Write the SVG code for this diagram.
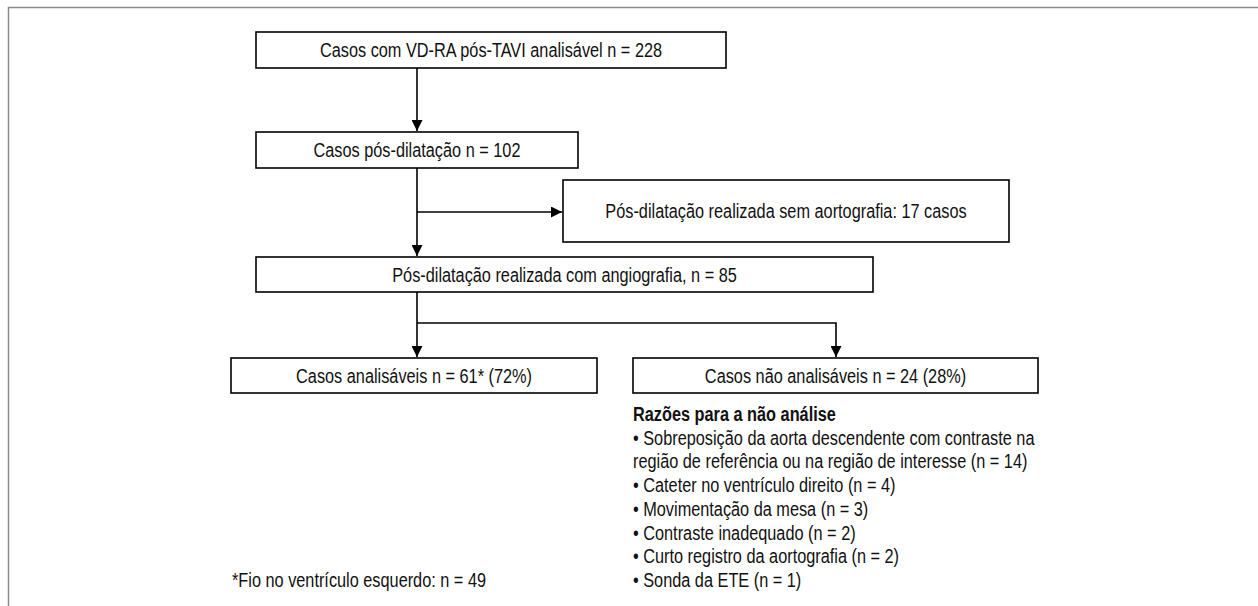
<svg xmlns="http://www.w3.org/2000/svg" width="1258" height="606" viewBox="0 0 1258 606">
<style>
.box{fill:#fff;stroke:#000;stroke-width:1.6}
.t{font-family:"Liberation Sans",Arial,sans-serif;font-size:20px;fill:#111}
.c{text-anchor:middle}
.b{font-weight:bold}
.ln{fill:none;stroke:#000;stroke-width:1.6}
.frame{fill:none;stroke:#8a8a8a;stroke-width:1.5}
</style>
<defs>
<marker id="ah" viewBox="0 0 10 10" refX="10" refY="5" markerWidth="11" markerHeight="11" markerUnits="userSpaceOnUse" orient="auto">
<path d="M0,0 L10,5 L0,10 z" fill="#000"/>
</marker>
</defs>
<rect width="1258" height="606" fill="#fff"/>
<path class="frame" d="M8.5,606 V7.5 H1258"/>
<g id="connectors">
<path class="ln" d="M417,68 V131" marker-end="url(#ah)"/>
<path class="ln" d="M417,168 V256" marker-end="url(#ah)"/>
<path class="ln" d="M417,212 H562" marker-end="url(#ah)"/>
<path class="ln" d="M417,292 V357" marker-end="url(#ah)"/>
<path class="ln" d="M417,323 H836 V357" marker-end="url(#ah)"/>
</g>
<g id="n1"><rect class="box" x="256" y="32" width="470" height="36"/><text class="t c" transform="translate(491,57) scale(0.815,1)">Casos com VD-RA pós-TAVI analisável n = 228</text></g>
<g id="n2"><rect class="box" x="256" y="132" width="322" height="36"/><text class="t c" transform="translate(417,157) scale(0.815,1)">Casos pós-dilatação n = 102</text></g>
<g id="n3"><rect class="box" x="563" y="180" width="446" height="62"/><text class="t c" transform="translate(786,218) scale(0.815,1)">Pós-dilatação realizada sem aortografia: 17 casos</text></g>
<g id="n4"><rect class="box" x="256" y="257" width="617" height="35"/><text class="t c" transform="translate(564.5,282) scale(0.815,1)">Pós-dilatação realizada com angiografia, n = 85</text></g>
<g id="n5"><rect class="box" x="231" y="358" width="366" height="35"/><text class="t c" transform="translate(414,383) scale(0.815,1)">Casos analisáveis n = 61* (72%)</text></g>
<g id="n6"><rect class="box" x="633" y="358" width="405" height="35"/><text class="t c" transform="translate(835.5,383) scale(0.815,1)">Casos não analisáveis n = 24 (28%)</text></g>
<g id="reasons">
<text class="t b" transform="translate(633,421) scale(0.815,1)">Razões para a não análise</text>
<text class="t" transform="translate(633,444.7) scale(0.815,1)">• Sobreposição da aorta descendente com contraste na</text>
<text class="t" transform="translate(633,468.4) scale(0.815,1)">região de referência ou na região de interesse (n = 14)</text>
<text class="t" transform="translate(633,492.1) scale(0.815,1)">• Cateter no ventrículo direito (n = 4)</text>
<text class="t" transform="translate(633,515.8) scale(0.815,1)">• Movimentação da mesa (n = 3)</text>
<text class="t" transform="translate(633,539.5) scale(0.815,1)">• Contraste inadequado (n = 2)</text>
<text class="t" transform="translate(633,563.2) scale(0.815,1)">• Curto registro da aortografia (n = 2)</text>
<text class="t" transform="translate(633,587) scale(0.815,1)">• Sonda da ETE (n = 1)</text>
</g>
<g id="footnote"><text class="t" transform="translate(232,587) scale(0.815,1)">*Fio no ventrículo esquerdo: n = 49</text></g>
</svg>
